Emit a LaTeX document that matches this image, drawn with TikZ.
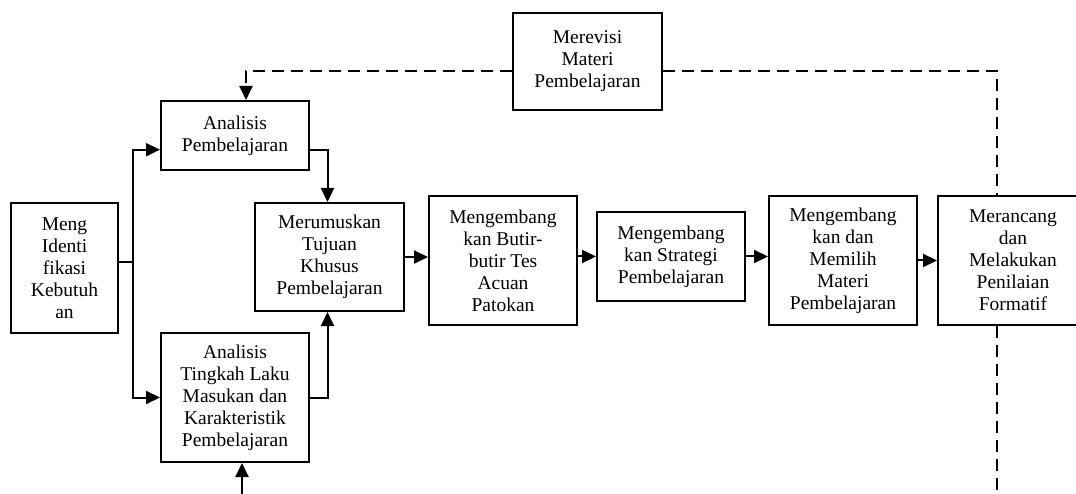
\documentclass[tikz,border=0pt]{standalone}
\usepackage{fontspec}
\setmainfont{Liberation Serif}
\usetikzlibrary{arrows.meta,calc}
\begin{document}
\begin{tikzpicture}[x=1pt,y=-1pt,
  box/.style={draw, line width=2pt, inner sep=0pt, align=center,
              font=\fontsize{19.5}{22}\selectfont},
  tip/.style={-{Triangle[length=14pt,width=13pt]}},
  conn/.style={line width=2pt, tip},
  plain/.style={line width=2pt},
  dline/.style={line width=1.9pt, dash pattern=on 12pt off 7pt}]
\useasboundingbox[fill=white] (0,0) rectangle (1076,494);

\node[box, minimum width=107pt, minimum height=130pt] (meng) at (64.5,268)
  {Meng\\Identi\\fikasi\\Kebutuh\\an};
\node[box, minimum width=148pt, minimum height=69pt] (ana) at (235,135.5)
  {Analisis\\Pembelajaran};
\node[box, minimum width=148pt, minimum height=129pt] (tin) at (235,397.5)
  {Analisis\\Tingkah Laku\\Masukan dan\\Karakteristik\\Pembelajaran};
\node[box, minimum width=149pt, minimum height=108pt] (mer) at (329.5,257)
  {Merumuskan\\Tujuan\\Khusus\\Pembelajaran};
\node[box, minimum width=148pt, minimum height=129pt] (but) at (503,260.5)
  {Mengembang\\kan Butir-\\butir Tes\\Acuan\\Patokan};
\node[box, minimum width=148pt, minimum height=89pt] (str) at (671,256.5)
  {Mengembang\\kan Strategi\\Pembelajaran};
\node[box, minimum width=148pt, minimum height=129pt] (mem) at (843,260.5)
  {Mengembang\\kan dan\\Memilih\\Materi\\Pembelajaran};
\node[box, minimum width=150pt, minimum height=129pt] (fm) at (1013,260.5)
  {Merancang\\dan\\Melakukan\\Penilaian\\Formatif};
\node[box, minimum width=149pt, minimum height=97pt] (rev) at (587.5,61.5)
  {Merevisi\\Materi\\Pembelajaran};

\coordinate (br) at (133,262);
\coordinate (bot) at (242,494);
\coordinate (dL) at (246,71);
\coordinate (dR) at (997,71);
\coordinate (dB) at (997,494);

\draw[plain] (meng.east |- br) -- (br);
\draw[conn] (br) |- ($(ana.south west)!0.3!(ana.north west)$);
\draw[conn] (br) |- (tin.west);
\draw[conn] ($(ana.south east)!0.3!(ana.north east)$) -| ([xshift=-2pt]mer.north);
\draw[conn] (tin.east) -| ([xshift=-2pt]mer.south);
\draw[conn] (mer.east) -- (mer.east -| but.west);
\draw[conn] (str.west -| but.east) -- (str.west);
\draw[conn] (str.east) -- (str.east -| mem.west);
\draw[conn] (mem.east) -- (mem.east -| fm.west);
\draw[conn] (bot) -- (bot |- tin.south);

\draw[dline, tip] (rev.west |- dL) -- (dL) -- (dL |- ana.north);
\draw[dline] (rev.east |- dR) -- (dR) -- (dR |- fm.north);
\draw[dline] (dB |- fm.south) -- (dB);
\end{tikzpicture}
\end{document}
